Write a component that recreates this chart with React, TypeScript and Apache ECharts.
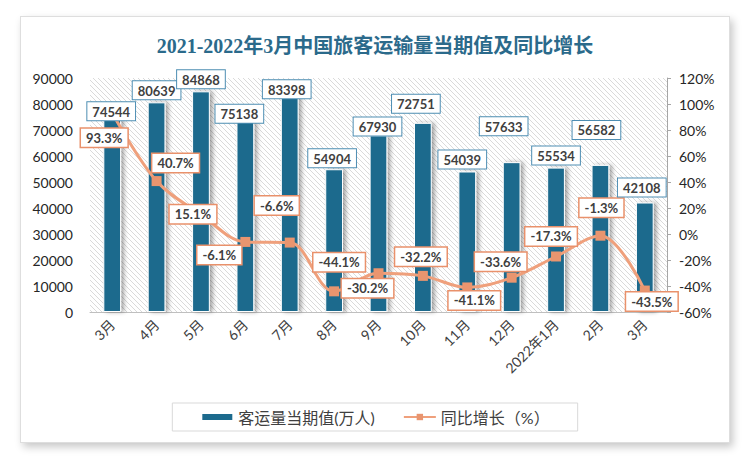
import React, { useEffect, useRef } from 'react';
import * as echarts from 'echarts';

const categories = ['3月', '4月', '5月', '6月', '7月', '8月', '9月', '10月', '11月', '12月', '2022年1月', '2月', '3月'];
const passengerVolume = [74544, 80639, 84868, 75138, 83398, 54904, 67930, 72751, 54039, 57633, 55534, 56582, 42108];
const yoyGrowth = [93.3, 40.7, 15.1, -6.1, -6.6, -44.1, -30.2, -32.2, -41.1, -33.6, -17.3, -1.3, -43.5];
const leftAxisRange = [0, 90000, 10000];
const rightAxisRange = [-60, 120, 20];
const titleText = '2021-2022年3月中国旅客运输量当期值及同比增长';
const barName = '客运量当期值(万人)';
const lineName = '同比增长（%）';

// label placement tweaks (layout only)
const barLabelShift = [[-1, 2], [0, -3], [0, -3], [-6, 6], [-3, 3], [-2, -2], [-1, 0], [-7, -10], [-5, -3], [-8, -27], [0, -3], [-4, -26], [-3, -6]];
const lineLabelShift = [[-8, 25], [19, -18], [-8, 0], [-26, 13], [-13, -37], [5, -29], [-11, 15], [-2, -19], [7, 13], [-11, -16], [-5, -20], [1, -28], [7, 11]];

const FONT = "Lato, 'Noto Sans CJK SC', sans-serif";

function makeHatch(): string {
  const s = 5;
  const c = document.createElement('canvas');
  c.width = s;
  c.height = s;
  const ctx = c.getContext('2d')!;
  ctx.fillStyle = '#ffffff';
  ctx.fillRect(0, 0, s, s);
  ctx.strokeStyle = '#dadada';
  ctx.lineWidth = 1;
  ctx.beginPath();
  ctx.moveTo(-1, -1);
  ctx.lineTo(s + 1, s + 1);
  ctx.moveTo(-1, s - 1);
  ctx.lineTo(1, s + 1);
  ctx.moveTo(s - 1, -1);
  ctx.lineTo(s + 1, 1);
  ctx.stroke();
  return c.toDataURL();
}

export default function App() {
  const ref = useRef<HTMLDivElement>(null);

  useEffect(() => {
    if (!ref.current) return;
    const chart = echarts.init(ref.current, undefined, { renderer: 'svg' });
    const hatch = makeHatch();

    const barLabelData = passengerVolume.map((v, i) => ({
      value: v,
      label: { offset: barLabelShift[i] },
    }));
    const lineData = yoyGrowth.map((v, i) => ({
      value: v,
      label: { offset: lineLabelShift[i] },
    }));

    chart.setOption({
      animation: false,
      backgroundColor: 'transparent',
      title: {
        text: titleText,
        left: 'center',
        top: 31,
        textStyle: {
          fontFamily: "'Liberation Serif', 'Noto Sans CJK SC', serif",
          fontSize: 20,
          fontWeight: 'bold',
          color: '#2B6A8B',
        },
      },
      grid: {
        left: 90,
        right: 83,
        top: 78,
        bottom: 149,
        show: true,
        borderWidth: 0,
        backgroundColor: { image: hatch, repeat: 'repeat' },
      },
      legend: {
        left: 'center',
        top: 403,
        padding: [6, 28, 6, 28],
        borderColor: '#d9d9d9',
        borderWidth: 1,
        itemGap: 28,
        itemWidth: 32,
        itemHeight: 8,
        textStyle: { fontFamily: FONT, fontSize: 16, color: '#404040' },
        data: [
          { name: barName, icon: 'rect' },
          { name: lineName },
        ],
      },
      xAxis: {
        type: 'category',
        data: categories,
        axisLine: { lineStyle: { color: '#bfbfbf', width: 1 } },
        axisTick: { show: false },
        axisLabel: {
          rotate: 45,
          interval: 0,
          margin: 10,
          fontFamily: FONT,
          fontSize: 14,
          color: '#404040',
        },
      },
      yAxis: [
        {
          type: 'value',
          min: leftAxisRange[0],
          max: leftAxisRange[1],
          interval: leftAxisRange[2],
          axisLine: { show: false },
          axisTick: { show: false },
          splitLine: { show: false },
          axisLabel: {
            formatter: (v: number) => String(v),
            fontFamily: FONT,
            fontSize: 14,
            color: '#262626',
            margin: 17,
          },
        },
        {
          type: 'value',
          min: rightAxisRange[0],
          max: rightAxisRange[1],
          interval: rightAxisRange[2],
          position: 'right',
          axisLine: { show: true, lineStyle: { color: '#a6a6a6' } },
          axisTick: { show: true, length: 4, lineStyle: { color: '#a6a6a6' } },
          splitLine: { show: false },
          axisLabel: { formatter: '{value}%', fontFamily: FONT, fontSize: 14, color: '#262626', margin: 12 },
        },
      ],
      series: [
        {
          name: barName,
          type: 'bar',
          yAxisIndex: 0,
          barWidth: '40%',
          data: passengerVolume,
          itemStyle: {
            color: '#1C6A8D',
            borderColor: '#ffffff',
            borderWidth: 1,
            shadowColor: 'rgba(0,0,0,0.35)',
            shadowBlur: 4,
            shadowOffsetX: 3,
            shadowOffsetY: 0,
          },
          z: 2,
        },
        {
          name: lineName,
          type: 'line',
          yAxisIndex: 1,
          data: lineData,
          smooth: 0.35,
          symbol: 'rect',
          symbolSize: 10,
          lineStyle: { color: '#EFA07C', width: 3 },
          itemStyle: { color: '#E9956F' },
          label: {
            show: true,
            position: 'inside',
            formatter: '{c}%',
            fontFamily: FONT,
            fontSize: 13,
            fontWeight: 'bold',
            color: '#404040',
            backgroundColor: '#ffffff',
            borderColor: '#E9916B',
            borderWidth: 1.5,
            padding: [3, 5, 2, 5],
          },
          z: 5,
        },
        {
          name: barName + '标签',
          type: 'bar',
          yAxisIndex: 0,
          barWidth: '40%',
          barGap: '-100%',
          data: barLabelData,
          itemStyle: { color: 'transparent' },
          silent: true,
          label: {
            show: true,
            position: 'top',
            distance: 0,
            fontFamily: FONT,
            fontSize: 13,
            fontWeight: 'bold',
            color: '#404040',
            backgroundColor: '#ffffff',
            borderColor: '#4E8EB3',
            borderWidth: 1,
            padding: [3, 5, 2, 5],
          },
          z: 8,
        },
      ],
    });

    return () => chart.dispose();
  }, []);

  return (
    <div style={{ position: 'absolute', left: 0, top: 0, width: 750, height: 461, background: '#ffffff' }}>
      <div
        style={{
          position: 'absolute',
          left: 20,
          top: 16,
          width: 708,
          height: 425,
          border: '1px solid #dedede',
          background: '#ffffff',
          boxShadow: '3px 4px 8px rgba(0,0,0,0.22)',
        }}
      />
      <div ref={ref} style={{ position: 'absolute', left: 0, top: 0, width: 750, height: 461 }} />
    </div>
  );
}
